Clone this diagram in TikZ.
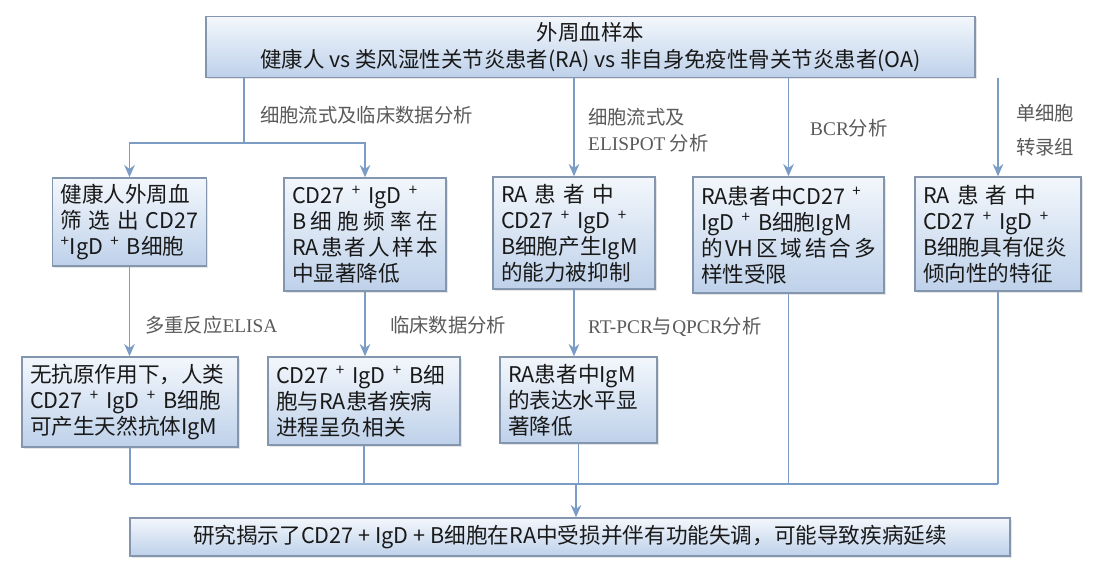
\documentclass[tikz,border=0pt]{standalone}
\usepackage{fontspec}
\setmainfont{Noto Sans CJK SC}
\newfontfamily\lat{Liberation Serif}
\usetikzlibrary{arrows.meta,shadows}

\definecolor{boxline}{HTML}{8396AD}
\definecolor{boxtop}{HTML}{F3F7FC}
\definecolor{boxbot}{HTML}{BED1EA}
\definecolor{linec}{HTML}{7B9DC5}
\definecolor{labc}{HTML}{5A5A5A}

\newcommand{\pl}{\textsuperscript{+}}
\newcommand{\jl}[1]{\makebox[\hsize][s]{#1}}

\tikzset{
  box/.style={draw=boxline, line width=0.8pt, top color=boxtop, bottom color=boxbot,
    drop shadow={opacity=0.2, shadow xshift=1pt, shadow yshift=-1pt},
    inner xsep=0.16cm, align=left, text=black!90,
    font=\fontsize{12.3pt}{14.8pt}\selectfont},
  line/.style={draw=linec, line width=1.1pt},
  arr/.style={line, -{Stealth[length=7pt, width=6pt]}},
  lab/.style={anchor=west, align=left, text=labc, font=\fontsize{11pt}{14.8pt}\selectfont}
}

\begin{document}
\begin{tikzpicture}[x=0.02cm, y=-0.02cm]
  \useasboundingbox (0,0) rectangle (1101,575);

  % sample box
  \node[box, align=center, minimum width=15.38cm, minimum height=1.2cm,
        font=\fontsize{12.2pt}{15.2pt}\selectfont] (top) at (590.5,47)
    {外周血样本\\健康人 vs 类风湿性关节炎患者(RA) vs 非自身免疫性骨关节炎患者(OA)};

  % first row
  \node[box, minimum width=3.08cm, minimum height=1.76cm, text width=2.76cm] (a1) at (129.5,222)
    {健康人外周血\\\jl{筛\hfil 选\hfil 出\hfil CD27}\\\pl IgD \pl\ B细胞};
  \node[box, minimum width=3.24cm, minimum height=2.26cm, text width=2.92cm] (b1) at (365,234.5)
    {\jl{CD27 \pl\ IgD \pl}\\\jl{B\hfil 细\hfil 胞\hfil 频\hfil 率\hfil 在}\\\jl{RA\hfil 患\hfil 者\hfil 人\hfil 样\hfil 本}\\中显著降低};
  \node[box, minimum width=3.24cm, minimum height=2.24cm, text width=2.92cm] (c1) at (574,233)
    {\jl{RA 患 者 中}\\\jl{CD27 \pl\ IgD \pl}\\\jl{B细胞产生IgM}\\的能力被抑制};
  \node[box, minimum width=3.82cm, minimum height=2.32cm, text width=3.5cm] (d1) at (788.5,235)
    {\jl{RA患者中CD27 \pl}\\\jl{IgD \pl\ B细胞IgM}\\\jl{的\hfil VH\hfil 区\hfil 域\hfil 结\hfil 合\hfil 多}\\样性受限};
  \node[box, minimum width=3.32cm, minimum height=2.28cm, text width=3cm] (e1) at (998,234)
    {\jl{RA 患 者 中}\\\jl{CD27 \pl\ IgD \pl}\\\jl{B细胞具有促炎}\\倾向性的特征};

  % second row
  \node[box, minimum width=4.32cm, minimum height=1.8cm, text width=4cm] (a2) at (130,402)
    {\jl{无抗原作用下，人类}\\\jl{CD27 \pl\ IgD \pl\ B细胞}\\可产生天然抗体IgM};
  \node[box, minimum width=3.84cm, minimum height=1.76cm, text width=3.52cm] (b2) at (364,401)
    {\jl{CD27 \pl\ IgD \pl\ B细}\\\jl{胞与RA患者疾病}\\进程呈负相关};
  \node[box, minimum width=3.14cm, minimum height=1.72cm, text width=2.82cm] (c2) at (578.5,400)
    {RA患者中IgM\\\jl{的表达水平显}\\著降低};

  % result
  \node[box, align=center, minimum width=17.6cm, minimum height=0.76cm] (bot) at (570,537)
    {研究揭示了CD27 + IgD + B细胞在RA中受损并伴有功能失调，可能导致疾病延续};

  % branch to first two boxes
  \coordinate (br) at (244,143);
  \draw[line] (top.south -| br) -- (br);
  \draw[arr] (br) -| (a1.north);
  \draw[arr] (br) -| (b1.north);
  \foreach \n in {c1,d1,e1}
    \draw[arr] (top.south -| \n.north) -- (\n.north);

  % first row to second row
  \foreach \n/\m in {a1/a2,b1/b2,c1/c2}
    \draw[arr] (\n.south) -- (\n.south |- \m.north);

  % collect
  \coordinate (join) at (576,484);
  \foreach \n in {a2,b2,c2,d1,e1}
    \draw[line] (\n.south) -- (\n.south |- join);
  \draw[line] (a2.south |- join) -- (e1.south |- join);
  \draw[arr] (join) -- (join |- bot.north);

  % method labels
  \node[lab] (l1) at (254,115) {细胞流式及临床数据分析};
  \node[lab] (l2) at (582,130) {细胞流式及\\{\lat ELISPOT} 分析};
  \node[lab] (l3) at (804,128) {{\lat BCR}分析};
  \node[lab, font=\fontsize{11pt}{19.3pt}\selectfont] (l4) at (1010,130) {单细胞\\转录组};
  \node[lab] (l5) at (139,325) {多重反应{\lat ELISA}};
  \node[lab] (l6) at (384,325) {临床数据分析};
  \node[lab] (l7) at (582,327) {{\lat RT-PCR}与{\lat QPCR}分析};
\end{tikzpicture}
\end{document}
